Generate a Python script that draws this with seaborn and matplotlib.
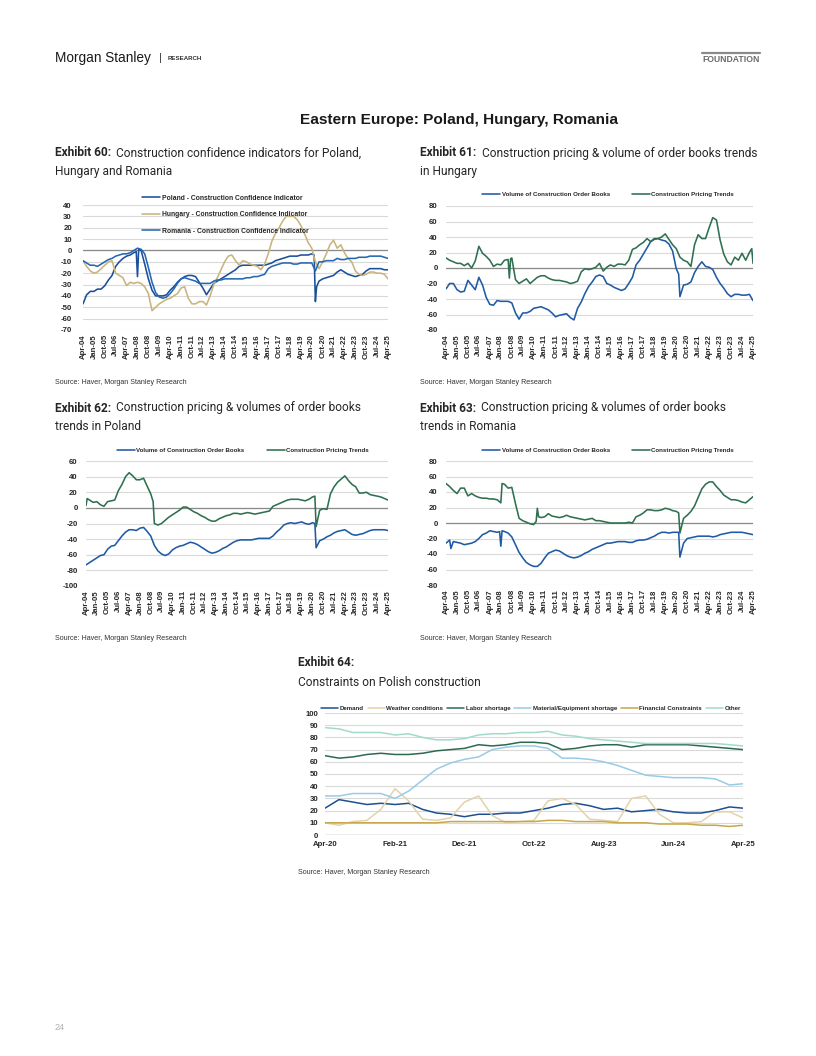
import numpy as np
import pandas as pd
import matplotlib
matplotlib.use('Agg')
import matplotlib.pyplot as plt
import seaborn as sns
from matplotlib import font_manager
from matplotlib.lines import Line2D

# ------------------------------------------------------------------ data
# Quarterly samples Apr-04 .. Apr-25; each row = Apr, Jul, Oct, Jan(next yr)
POL_CCI = [-47, -39, -36, -36,  -34, -34, -31, -26,  -22, -14, -10, -7,  -5, -4, -2, -23,
           0, -12, -25, -35,  -40, -40, -40, -39,  -35, -32, -28, -25,  -23, -22, -22, -23,
           -28, -33, -39, -34,  -29, -27, -25, -23,  -21, -19, -17, -14,  -13, -13, -13, -13,
           -13, -13, -13, -12,  -11, -9, -8, -7,  -6, -5, -5, -5,  -4, -4, -4, -3,
           -45, -27, -25, -24,  -23, -22, -19, -17,  -19, -21, -22, -23,  -22, -21, -18, -16,
           -16, -16, -16, -17,  -17]
POL_CCI_EXTRA = {'2007-12': -1, '2008-02': 1, '2020-03': -4, '2020-05': -32}
ROM_CCI = [-9, -11, -13, -13,  -14, -12, -10, -8,  -7, -5, -4, -3,  -3, -2, 0, 2,
           1, -3, -15, -28,  -37, -41, -42, -41,  -38, -34, -29, -25,  -24, -25, -26, -27,
           -29, -29, -29, -29,  -27, -26, -26, -25,  -25, -25, -25, -25,  -25, -24, -24, -23,
           -23, -22, -21, -16,  -14, -13, -12, -11,  -11, -11, -12, -12,  -11, -11, -11, -11,
           -18, -10, -10, -9,  -9, -9, -7, -8,  -8, -7, -7, -7,  -6, -6, -6, -5,
           -5, -5, -5, -6,  -7]
HUN_CCI = [-9, -14, -18, -20,  -19, -16, -13, -10,  -9, -20, -22, -24,  -31, -28, -29, -28,
           -29, -32, -38, -53,  -50, -47, -45, -43,  -42, -40, -38, -33,  -32, -42, -47, -47,
           -45, -45, -48, -40,  -30, -24, -17, -10,  -5, -4, -9, -13,  -9, -10, -12, -13,
           -14, -17, -12, -3,  8, 15, 20, 26,  30, 30, 30, 27,  22, 15, 7, 2,
           -10, -16, -10, -3,  5, 9, 2, 5,  -2, -7, -10, -18,  -21, -22, -21, -19,
           -19, -20, -20, -21,  -25]

HUN_ORD = [-27, -20, -20, -28,  -31, -30, -16, -22,  -28, -12, -22, -38,  -47, -48, -42, -43,
           -43, -43, -45, -58,  -66, -58, -58, -56,  -52, -51, -50, -52,  -54, -58, -63, -61,
           -60, -59, -64, -67,  -52, -44, -33, -24,  -18, -11, -9, -11,  -20, -22, -25, -27,
           -29, -27, -20, -12,  4, 10, 18, 26,  34, 37, 38, 36,  35, 31, 22, -1,
           -37, -22, -21, -18,  -6, 2, 8, 2,  1, -2, -12, -20,  -26, -33, -37, -34,
           -34, -35, -35, -34,  -42]
HUN_ORD_EXTRA = {'2020-03': -8}
HUN_PRC = [13, 10, 8, 6,  6, 3, 6, 0,  9, 28, 19, 15,  10, 2, 5, 4,
           10, 11, 13, -15,  -20, -17, -14, -20,  -16, -12, -10, -10,  -13, -15, -16, -16,
           -17, -18, -20, -19,  -17, -5, -1, -2,  -1, 1, 6, -4,  1, 4, 2, 5,
           5, 4, 10, 24,  26, 30, 33, 38,  34, 38, 38, 40,  44, 37, 30, 25,
           14, 10, 8, 2,  30, 43, 38, 38,  52, 65, 62, 36,  18, 8, 4, 14,
           10, 19, 10, 20,  6]
HUN_PRC_EXTRA = {'2008-08': -13, '2008-09': 12, '2025-03': 25}

POL_ORD = [-73, -70, -67, -64,  -61, -60, -53, -49,  -48, -42, -36, -31,  -28, -28, -29, -26,
           -25, -30, -36, -48,  -55, -59, -61, -59,  -54, -51, -49, -48,  -46, -44, -45, -47,
           -50, -53, -56, -58,  -57, -55, -52, -50,  -47, -44, -42, -41,  -41, -41, -41, -40,
           -39, -39, -39, -39,  -36, -31, -27, -22,  -20, -19, -20, -19,  -18, -20, -21, -19,
           -51, -42, -40, -37,  -35, -32, -30, -29,  -28, -31, -34, -35,  -34, -33, -31, -29,
           -28, -28, -28, -28,  -29]
POL_ORD_EXTRA = {'2020-03': -20}
POL_PRC = [3, 10, 7, 8,  4, 2, 8, 9,  10, 22, 30, 40,  45, 41, 36, 36,
           38, 28, 18, -20,  -22, -20, -16, -12,  -9, -6, -3, 1,  1, -2, -5, -7,
           -10, -12, -15, -17,  -17, -14, -12, -10,  -9, -7, -7, -8,  -7, -6, -7, -8,
           -7, -6, -5, -4,  2, 4, 6, 8,  10, 11, 11, 11,  10, 9, 11, 14,
           -24, -3, -1, -2,  18, 27, 33, 37,  41, 35, 30, 27,  19, 19, 20, 17,
           16, 15, 14, 12,  10]
POL_PRC_EXTRA = {'2004-05': 12, '2008-12': 8, '2020-03': 15}

ROM_ORD = [-26, -22, -24, -25,  -26, -28, -27, -26,  -24, -20, -15, -13,  -10, -11, -12, -30,
           -11, -13, -18, -28,  -38, -45, -51, -54,  -56, -56, -52, -45,  -39, -37, -35, -36,
           -39, -42, -44, -45,  -44, -42, -39, -37,  -34, -32, -30, -28,  -26, -26, -25, -24,
           -24, -24, -25, -25,  -23, -22, -22, -21,  -19, -17, -14, -12,  -12, -13, -12, -12,
           -44, -26, -20, -19,  -18, -17, -17, -17,  -17, -18, -17, -15,  -14, -13, -12, -12,
           -12, -12, -13, -14,  -15]
ROM_ORD_EXTRA = {'2004-08': -33, '2007-12': -11, '2008-02': -10, '2020-03': -12}
ROM_PRC = [51, 47, 42, 38,  45, 45, 35, 38,  35, 33, 32, 32,  31, 31, 30, 26,
           50, 45, 46, 25,  6, 3, 1, -1,  -2, 19, 7, 8,  12, 9, 8, 7,
           8, 10, 8, 7,  6, 5, 4, 5,  6, 3, 3, 2,  1, 0, 0, 0,
           0, 0, 1, 0,  8, 10, 13, 17,  17, 16, 16, 17,  19, 18, 16, 15,
           -13, 6, 10, 15,  22, 33, 44, 50,  53, 53, 47, 42,  36, 33, 30, 30,
           29, 27, 26, 30,  34]
ROM_PRC_EXTRA = {'2008-02': 51, '2010-06': 2, '2010-08': 8, '2020-03': 13}

# Exhibit 64: bi-monthly Apr-20 .. Apr-25
DEMAND = [22, 29, 27, 25, 26, 25, 26, 21, 18, 17, 15, 17, 17, 18, 18,
          20, 22, 25, 26, 24, 21, 22, 19, 20, 21, 19, 18, 18, 20, 23, 22]
WEATHER = [10, 8, 11, 12, 21, 38, 28, 13, 12, 14, 27, 32, 16, 10, 11,
           12, 28, 30, 25, 13, 12, 11, 30, 32, 17, 10, 10, 11, 19, 19, 14]
LABOR = [65, 63, 64, 66, 67, 66, 66, 67, 69, 70, 71, 74, 73, 74, 76,
         76, 75, 70, 71, 73, 74, 74, 72, 74, 74, 74, 74, 73, 72, 71, 70]
MATERIAL = [32, 32, 34, 34, 34, 30, 36, 45, 54, 59, 62, 64, 70, 72, 73,
            73, 71, 63, 63, 62, 60, 57, 53, 49, 48, 47, 47, 47, 46, 41, 42]
FINANCIAL = [10, 10, 10, 10, 10, 10, 10, 10, 10, 11, 11, 11, 11, 11, 11,
             11, 12, 12, 11, 11, 11, 10, 10, 10, 9, 9, 9, 8, 8, 7, 8]
OTHER = [88, 87, 84, 84, 84, 82, 83, 80, 78, 78, 79, 82, 83, 83, 84,
         84, 85, 82, 81, 79, 78, 77, 76, 75, 75, 75, 75, 75, 75, 74, 73]

LONG_TICKS = ['Apr-04', 'Jan-05', 'Oct-05', 'Jul-06', 'Apr-07', 'Jan-08', 'Oct-08', 'Jul-09',
              'Apr-10', 'Jan-11', 'Oct-11', 'Jul-12', 'Apr-13', 'Jan-14', 'Oct-14', 'Jul-15',
              'Apr-16', 'Jan-17', 'Oct-17', 'Jul-18', 'Apr-19', 'Jan-20', 'Oct-20', 'Jul-21',
              'Apr-22', 'Jan-23', 'Oct-23', 'Jul-24', 'Apr-25']
TICKS_64 = ['Apr-20', 'Feb-21', 'Dec-21', 'Oct-22', 'Aug-23', 'Jun-24', 'Apr-25']

Q_DATES = pd.date_range('2004-04-01', '2025-04-01', freq='3MS')
B_DATES = pd.date_range('2020-04-01', '2025-04-01', freq='2MS')

# ------------------------------------------------------------------ style
sns.set_theme(style='white')
names = {f.name for f in font_manager.fontManager.ttflist}
NARROW = 'Liberation Sans Narrow' if 'Liberation Sans Narrow' in names else 'Liberation Sans'
TFONT = 'Roboto' if 'Roboto' in names else 'Liberation Sans'
plt.rcParams['font.family'] = [NARROW, 'DejaVu Sans']
plt.rcParams['axes.unicode_minus'] = False
TXT = '#262626'
GRID = '#d9d9d9'
ZERO = '#8a8a8a'
BLUE = '#1f5aa6'
GREEN = '#2e7050'

W, H = 816, 1056
fig = plt.figure(figsize=(W / 100, H / 100), dpi=100)
fig.patch.set_facecolor('white')
renderer = fig.canvas.get_renderer()


def rect(l, t, r, b):
    return [l / W, 1 - b / H, (r - l) / W, (b - t) / H]


def fx(x):
    return x / W


def fy(y):
    return 1 - y / H


def width_px(t):
    return t.get_window_extent(renderer=renderer).width


def frame(values, dates, extras=None):
    assert len(values) == len(dates)
    s = pd.Series(values, index=dates, dtype=float)
    if extras:
        for k, v in extras.items():
            s.loc[pd.Timestamp(k + '-01')] = v
    s = s.sort_index()
    return pd.DataFrame({'date': s.index, 'value': s.values})


def style_axes(ax, ylo, yhi, step, ypad):
    ax.set_ylim(ylo, yhi)
    ax.set_yticks(np.arange(ylo, yhi + 1, step))
    ax.yaxis.grid(True, color=GRID, lw=0.8)
    ax.xaxis.grid(False)
    for s in ax.spines.values():
        s.set_visible(False)
    ax.tick_params(axis='both', length=0)
    ax.tick_params(axis='y', pad=ypad)
    for lab in ax.get_yticklabels():
        lab.set_fontsize(5.6)
        lab.set_fontweight('bold')
        lab.set_color(TXT)
    ax.set_xlabel('')
    ax.set_ylabel('')
    ax.set_facecolor('white')


def long_xaxis(ax):
    ticks = [pd.to_datetime(t, format='%b-%y') for t in LONG_TICKS]
    ax.set_xlim(pd.Timestamp('2004-04-01'), pd.Timestamp('2025-04-01'))
    ax.set_xticks(ticks)
    ax.set_xticklabels(LONG_TICKS, rotation=90, fontsize=5.6, fontweight='bold', color=TXT)
    ax.tick_params(axis='x', pad=3)


def draw(ax, series_list, lw=1.15):
    handles = []
    for df, color, label in series_list:
        sns.lineplot(data=df, x='date', y='value', ax=ax, color=color, linewidth=lw,
                     legend=False, estimator=None)
        ln = ax.lines[-1]
        ln.set_label(label)
        handles.append(ln)
    return handles


def make_legend(ax, handles, x, y, target, ncol, handle_px=18, pad_px=1.5, col_px=22,
                row_px=None, loc='center left'):
    fs = 5.0
    fixed = ncol * (handle_px + pad_px) + (ncol - 1) * col_px
    leg = None
    for _ in range(4):
        fpx = fs * 100 / 72
        kw = {}
        if row_px is not None:
            kw['labelspacing'] = max(row_px / fpx - 1.25, 0.05)
        leg = ax.legend(handles=handles, loc=loc, bbox_to_anchor=(fx(x), fy(y)),
                        bbox_transform=fig.transFigure, ncol=ncol, frameon=False,
                        prop={'weight': 'bold', 'size': fs, 'family': [NARROW, 'DejaVu Sans']},
                        handlelength=handle_px / fpx, handletextpad=pad_px / fpx,
                        columnspacing=col_px / fpx, borderpad=0, borderaxespad=0, **kw)
        w = leg.get_window_extent(renderer).width
        fs *= (target - fixed) / max(w - fixed, 1)
    for t in leg.get_texts():
        t.set_color(TXT)
    return leg


# ------------------------------------------------------------------ Exhibit 60
ax60 = fig.add_axes(rect(83, 205, 388, 330))
ax60.axhline(0, color=ZERO, lw=0.9, zorder=1)
h60 = draw(ax60, [
    (frame(POL_CCI, Q_DATES, POL_CCI_EXTRA), '#1b4f9a', 'Poland - Construction Confidence Indicator'),
    (frame(HUN_CCI, Q_DATES), '#c9b47a', 'Hungary - Construction Confidence Indicator'),
    (frame(ROM_CCI, Q_DATES), '#2468b4', 'Romania - Construction Confidence Indicator'),
])
style_axes(ax60, -70, 40, 10, 8)
long_xaxis(ax60)
make_legend(ax60, h60, 142, 194.5, 168, 1, handle_px=18, pad_px=2, col_px=0, row_px=18.2,
            loc='upper left')

# ------------------------------------------------------------------ Exhibit 61
ax61 = fig.add_axes(rect(446, 206, 753, 330))
ax61.axhline(0, color=ZERO, lw=0.9, zorder=1)
h61 = draw(ax61, [
    (frame(HUN_ORD, Q_DATES, HUN_ORD_EXTRA), BLUE, 'Volume of Construction Order Books'),
    (frame(HUN_PRC, Q_DATES, HUN_PRC_EXTRA), GREEN, 'Construction Pricing Trends'),
])
style_axes(ax61, -80, 80, 20, 6)
long_xaxis(ax61)
make_legend(ax61, h61, 482, 194, 252, 2)

# ------------------------------------------------------------------ Exhibit 62
ax62 = fig.add_axes(rect(86, 461, 388, 586))
ax62.axhline(0, color=ZERO, lw=0.9, zorder=1)
h62 = draw(ax62, [
    (frame(POL_ORD, Q_DATES, POL_ORD_EXTRA), BLUE, 'Volume of Construction Order Books'),
    (frame(POL_PRC, Q_DATES, POL_PRC_EXTRA), GREEN, 'Construction Pricing Trends'),
])
style_axes(ax62, -100, 60, 20, 6)
long_xaxis(ax62)
make_legend(ax62, h62, 117, 450, 252, 2)

# ------------------------------------------------------------------ Exhibit 63
ax63 = fig.add_axes(rect(446, 461, 753, 585))
ax63.axhline(0, color=ZERO, lw=0.9, zorder=1)
h63 = draw(ax63, [
    (frame(ROM_ORD, Q_DATES, ROM_ORD_EXTRA), BLUE, 'Volume of Construction Order Books'),
    (frame(ROM_PRC, Q_DATES, ROM_PRC_EXTRA), GREEN, 'Construction Pricing Trends'),
])
style_axes(ax63, -80, 80, 20, 6)
long_xaxis(ax63)
make_legend(ax63, h63, 482, 450, 252, 2)

# ------------------------------------------------------------------ Exhibit 64
ax64 = fig.add_axes(rect(325, 713, 743, 835))
ax64.axhline(0, color=ZERO, lw=0.9, zorder=1)
h64 = draw(ax64, [
    (frame(DEMAND, B_DATES), '#1e4f90', 'Demand'),
    (frame(WEATHER, B_DATES), '#e3d3a8', 'Weather conditions'),
    (frame(LABOR, B_DATES), '#2c6a4e', 'Labor shortage'),
    (frame(MATERIAL, B_DATES), '#96cce6', 'Material/Equipment shortage'),
    (frame(FINANCIAL, B_DATES), '#c8a64a', 'Financial Constraints'),
    (frame(OTHER, B_DATES), '#a3d9cc', 'Other'),
], lw=1.1)
style_axes(ax64, 0, 100, 10, 5)
t64 = [pd.to_datetime(t, format='%b-%y') for t in TICKS_64]
ax64.set_xlim(pd.Timestamp('2020-04-01'), pd.Timestamp('2025-04-01'))
ax64.set_xticks(t64)
ax64.set_xticklabels(TICKS_64, fontsize=5.6, fontweight='bold', color=TXT)
ax64.tick_params(axis='x', pad=4)
make_legend(ax64, h64, 321, 708, 416, 6, handle_px=17, pad_px=1.5, col_px=4)

# ------------------------------------------------------------------ page text
ms = fig.text(fx(55), fy(58), 'Morgan Stanley', fontsize=10.5, color='#1a1a1a', va='center')
ms.set_fontsize(ms.get_fontsize() * 96 / width_px(ms))
fig.text(fx(159), fy(58), '|', fontsize=8, color='#333333', va='center')
rs = fig.text(fx(168), fy(58), 'RESEARCH', fontsize=4.5, fontweight='bold', color='#333333', va='center')
rs.set_fontsize(rs.get_fontsize() * 34 / width_px(rs))
fd = fig.text(fx(760), fy(60), 'FOUNDATION', fontsize=6, fontweight='bold', color='#6b6b6b',
              va='center', ha='right')
fd.set_fontsize(fd.get_fontsize() * 57 / width_px(fd))
fig.add_artist(Line2D([fx(702), fx(760)], [fy(52.5), fy(52.5)], color='#8a8a8a', lw=1.6))

tt = fig.text(fx(458.5), fy(120), 'Eastern Europe: Poland, Hungary, Romania', fontsize=12.5,
              fontweight='bold', color='#1a1a1a', ha='center', va='center')
tt.set_fontsize(tt.get_fontsize() * 317 / width_px(tt))

# exhibit titles: size fitted on the longest line
probe_b = fig.text(0, 0, 'Exhibit 61:', fontsize=9, fontweight='bold', family=TFONT)
probe_r = fig.text(0, 0, 'Construction pricing & volume of order books trends', fontsize=9, family=TFONT)
wtot = width_px(probe_b) + width_px(probe_r) + 0.45 * 9 * 100 / 72
probe_b.remove()
probe_r.remove()
TS = 9 * 337 / wtot


def exhibit(x, y, bold, rest):
    t1 = fig.text(fx(x), fy(y), bold, fontsize=TS, fontweight='bold', family=TFONT,
                  color=TXT, va='center')
    if rest:
        w = width_px(t1)
        fig.text(fx(x + w + 0.45 * TS * 100 / 72), fy(y), rest, fontsize=TS, family=TFONT,
                 color=TXT, va='center')


def plain(x, y, s):
    fig.text(fx(x), fy(y), s, fontsize=TS, family=TFONT, color=TXT, va='center')


exhibit(55, 153, 'Exhibit 60:', 'Construction confidence indicators for Poland,')
plain(55, 172, 'Hungary and Romania')
exhibit(420, 153, 'Exhibit 61:', 'Construction pricing & volume of order books trends')
plain(420, 172, 'in Hungary')
exhibit(55, 408, 'Exhibit 62:', 'Construction pricing & volumes of order books')
plain(55, 427, 'trends in Poland')
exhibit(420, 408, 'Exhibit 63:', 'Construction pricing & volumes of order books')
plain(420, 427, 'trends in Romania')
exhibit(298, 663, 'Exhibit 64:', '')
plain(298, 683, 'Constraints on Polish construction')


def source(x, y):
    s = fig.text(fx(x), fy(y), 'Source: Haver, Morgan Stanley Research', fontsize=5.3,
                 color='#333333', va='center')
    s.set_fontsize(s.get_fontsize() * 131 / width_px(s))


source(55, 382)
source(420, 382)
source(55, 638)
source(420, 638)
source(298, 873)

fig.text(fx(55), fy(1028), '24', fontsize=6.5, color='#b0b0b0', va='center')

fig.savefig('out.png', dpi=100, facecolor='white')
